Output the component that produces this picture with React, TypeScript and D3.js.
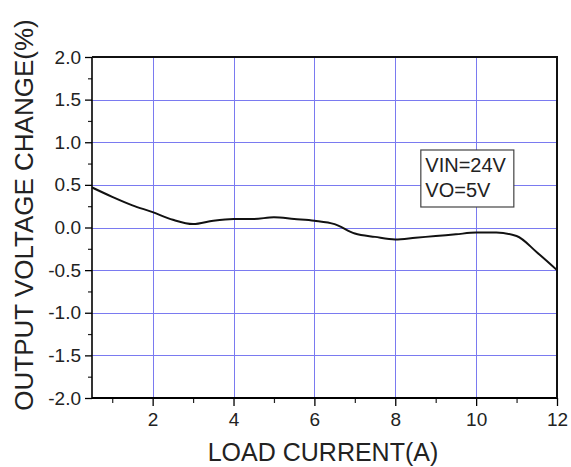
import { useEffect, useRef } from "react";
import * as d3 from "d3";

// load current (A) and output voltage change (%)
const loadCurrent = [0.5, 1, 1.5, 2, 2.5, 3, 3.5, 4, 4.5, 5, 5.5, 6, 6.5, 7, 7.5, 8, 8.5, 9, 9.5, 10, 10.5, 11, 11.5, 12];
const voltageChange = [0.47, 0.36, 0.26, 0.18, 0.09, 0.04, 0.08, 0.1, 0.1, 0.12, 0.1, 0.08, 0.04, -0.07, -0.11, -0.14, -0.12, -0.1, -0.08, -0.06, -0.06, -0.1, -0.29, -0.5];

const xTicks = [2, 4, 6, 8, 10, 12];
const yTicks = [-2, -1.5, -1, -0.5, 0, 0.5, 1, 1.5, 2];
const legendLines = ["VIN=24V", "VO=5V"];

const W = 571;
const H = 467;
const FONT = "'Liberation Sans', Arial, sans-serif";

export default function App() {
  const svgRef = useRef<SVGSVGElement>(null);

  useEffect(() => {
    const margin = { top: 57, right: 14, bottom: 69, left: 92 };
    const w = W - margin.left - margin.right;
    const h = H - margin.top - margin.bottom;

    const svg = d3.select(svgRef.current);
    svg.selectAll("*").remove();

    const g = svg.append("g").attr("transform", `translate(${margin.left},${margin.top})`);

    const x = d3.scaleLinear().domain([0.5, 12]).range([0, w]);
    const y = d3.scaleLinear().domain([-2, 2]).range([h, 0]);

    // grid
    const grid = g.append("g").attr("stroke", "#7a7af0").attr("stroke-width", 1);
    grid
      .selectAll("line.v")
      .data(xTicks.filter((d) => d < 12))
      .join("line")
      .attr("x1", (d) => Math.round(x(d)) + 0.5)
      .attr("x2", (d) => Math.round(x(d)) + 0.5)
      .attr("y1", 0)
      .attr("y2", h);
    grid
      .selectAll("line.h")
      .data(yTicks.filter((d) => d > -2 && d < 2))
      .join("line")
      .attr("x1", 0)
      .attr("x2", w)
      .attr("y1", (d) => Math.round(y(d)) + 0.5)
      .attr("y2", (d) => Math.round(y(d)) + 0.5);

    // minor ticks
    const xMinor = d3.range(1, 12, 2);
    const yMinor = d3.range(-1.75, 2, 0.5);
    g.append("g")
      .attr("transform", `translate(0,${h})`)
      .call(d3.axisBottom(x).tickValues(xMinor).tickSize(5).tickFormat(() => ""))
      .call((a) => a.select(".domain").remove())
      .selectAll("line")
      .attr("stroke", "#222")
      .attr("stroke-width", 1.2);
    g.append("g")
      .call(d3.axisLeft(y).tickValues(yMinor).tickSize(4).tickFormat(() => ""))
      .call((a) => a.select(".domain").remove())
      .selectAll("line")
      .attr("stroke", "#222")
      .attr("stroke-width", 1.2);

    // major axes
    const xAxis = g
      .append("g")
      .attr("transform", `translate(0,${h})`)
      .call(d3.axisBottom(x).tickValues(xTicks).tickSize(8).tickSizeOuter(0).tickPadding(7).tickFormat(d3.format("d")));
    xAxis.select(".domain").attr("stroke-width", 2).attr("d", `M0,0H${w}`);
    xAxis.selectAll("line").attr("stroke-width", 1.3);
    xAxis.selectAll("text").attr("font-family", FONT).attr("font-size", 19).attr("fill", "#222");

    const fmtY = (d: d3.NumberValue) => (+d).toFixed(1);
    const yAxis = g
      .append("g")
      .call(d3.axisLeft(y).tickValues(yTicks).tickSize(7).tickSizeOuter(0).tickPadding(4).tickFormat(fmtY));
    yAxis.select(".domain").attr("stroke-width", 1.6).attr("d", `M0,${h}V0`);
    yAxis.selectAll("line").attr("stroke-width", 1.3);
    yAxis.selectAll("text").attr("font-family", FONT).attr("font-size", 19).attr("fill", "#222");

    // top and right frame
    g.append("path")
      .attr("d", `M0,0H${w}V${h}`)
      .attr("fill", "none")
      .attr("stroke", "#111")
      .attr("stroke-width", 2);

    // curve
    const pts = loadCurrent.map((c, i) => [c, voltageChange[i]] as [number, number]);
    g.append("path")
      .datum(pts)
      .attr("fill", "none")
      .attr("stroke", "#111")
      .attr("stroke-width", 2)
      .attr("stroke-linejoin", "round")
      .attr("d", d3.line<[number, number]>().x((d) => x(d[0])).y((d) => y(d[1])).curve(d3.curveMonotoneX));

    // legend box
    const lg = g.append("g").attr("transform", `translate(${x(8.62)},${y(0.915)})`);
    lg.append("rect")
      .attr("x", 0.5)
      .attr("y", 0.5)
      .attr("width", 93)
      .attr("height", 57)
      .attr("fill", "#fff")
      .attr("stroke", "#444")
      .attr("stroke-width", 1.2);
    lg.selectAll("text")
      .data(legendLines)
      .join("text")
      .attr("x", 5)
      .attr("y", (_, i) => 23 + i * 25)
      .attr("font-family", FONT)
      .attr("font-size", 20)
      .attr("fill", "#222")
      .text((d) => d);

    // axis titles
    svg
      .append("text")
      .attr("x", 323)
      .attr("y", 461)
      .attr("text-anchor", "middle")
      .attr("font-family", FONT)
      .attr("font-size", 25)
      .attr("fill", "#222")
      .text("LOAD CURRENT(A)");
    svg
      .append("text")
      .attr("transform", `translate(33,215) rotate(-90)`)
      .attr("text-anchor", "middle")
      .attr("font-family", FONT)
      .attr("font-size", 26)
      .attr("fill", "#222")
      .text("OUTPUT VOLTAGE CHANGE(%)");
  }, []);

  return (
    <svg
      ref={svgRef}
      width={W}
      height={H}
      style={{ position: "absolute", left: 0, top: 0, background: "#fff", display: "block" }}
    />
  );
}
